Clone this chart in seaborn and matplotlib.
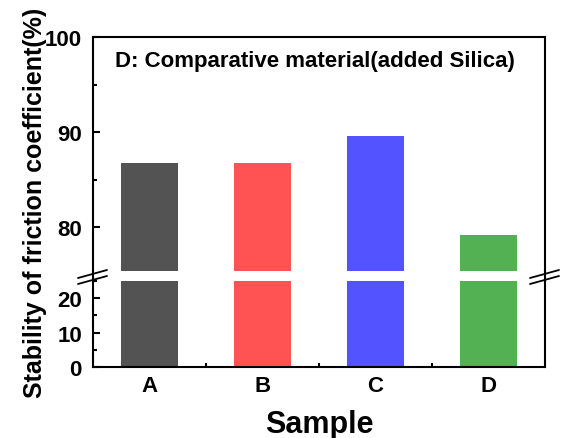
import matplotlib
matplotlib.use("Agg")
import matplotlib.pyplot as plt
import seaborn as sns
import pandas as pd
from matplotlib.ticker import MultipleLocator, FixedLocator

samples = ["A", "B", "C", "D"]
stability = [86.8, 86.8, 89.6, 79.2]
colors = ["#535353", "#FF5252", "#5353FF", "#53B153"]
upper_ticks = [80, 90, 100]
lower_ticks = [0, 10, 20]

sns.set_theme(style="ticks")
plt.rcParams["font.family"] = ["Liberation Sans", "DejaVu Sans"]
plt.rcParams["font.weight"] = "bold"
plt.rcParams["text.color"] = "black"
plt.rcParams["xtick.color"] = "black"
plt.rcParams["ytick.color"] = "black"

df = pd.DataFrame({"Sample": samples, "Stability": stability})

W, H = 561, 439
fig = plt.figure(figsize=(W / 100, H / 100), dpi=100)
L, R = 93 / W, 545 / W
ax_top = fig.add_axes([L, 1 - 272 / H, R - L, (272 - 38) / H])
ax_bot = fig.add_axes([L, 1 - 368 / H, R - L, (368 - 282) / H])

for ax in (ax_top, ax_bot):
    sns.barplot(data=df, x="Sample", y="Stability", hue="Sample",
                palette=colors, width=0.5, linewidth=0, saturation=1,
                legend=False, ax=ax)
    ax.set_xlim(-0.5, 3.5)
    ax.set_xlabel("")
    ax.set_ylabel("")
    for s in ax.spines.values():
        s.set_linewidth(1.5)
        s.set_color("black")

ax_top.set_ylim(75.4, 100)
ax_top.set_yticks(upper_ticks)
ax_top.yaxis.set_minor_locator(MultipleLocator(5))
ax_top.spines["bottom"].set_visible(False)

ax_bot.set_ylim(0, 25)
ax_bot.set_yticks(lower_ticks)
ax_bot.yaxis.set_minor_locator(MultipleLocator(5))
ax_bot.spines["top"].set_visible(False)
ax_bot.set_xticks(range(len(samples)))
ax_bot.set_xticklabels(samples)
ax_bot.xaxis.set_minor_locator(FixedLocator([0.5, 1.5, 2.5]))

for ax in (ax_top, ax_bot):
    ax.tick_params(axis="both", which="major", direction="in", length=5,
                   width=1.5, labelsize=16, colors="black",
                   left=True, right=False, top=False)
    ax.tick_params(axis="both", which="minor", direction="in", length=3,
                   width=1.5, left=True, right=False, top=False)
    ax.tick_params(axis="y", which="major", pad=8)
ax_top.tick_params(axis="x", which="both", bottom=False, labelbottom=False)
ax_bot.tick_params(axis="x", which="both", bottom=True)
ax_bot.tick_params(axis="x", which="major", pad=6)
for lab in ax_bot.get_yticklabels() + ax_top.get_yticklabels() + ax_bot.get_xticklabels():
    lab.set_fontweight("bold")

ax_top.text(0.048, 0.90, "D: Comparative material(added Silica)",
            transform=ax_top.transAxes, fontsize=16, fontweight="bold",
            va="center", ha="left")

# continuous side spines across the break, plus break marks
for xc in (L, R):
    fig.add_artist(plt.Line2D([xc, xc], [1 - 283 / H, 1 - 271 / H],
                              color="black", lw=1.5))
    for y0 in (285, 279):
        fig.add_artist(plt.Line2D([xc - 15 / W, xc + 14 / W],
                                  [1 - y0 / H, 1 - (y0 - 8) / H],
                                  color="black", lw=1.3))

fig.text((L + R) / 2, 1 - 425 / H, "Sample", ha="center", va="center",
         fontsize=22, fontweight="bold")
fig.text(35 / W, 1 - 203 / H, "Stability of friction coefficient(%)",
         ha="center", va="center", rotation=90, fontsize=18, fontweight="bold")

fig.savefig("out.png", dpi=100)
